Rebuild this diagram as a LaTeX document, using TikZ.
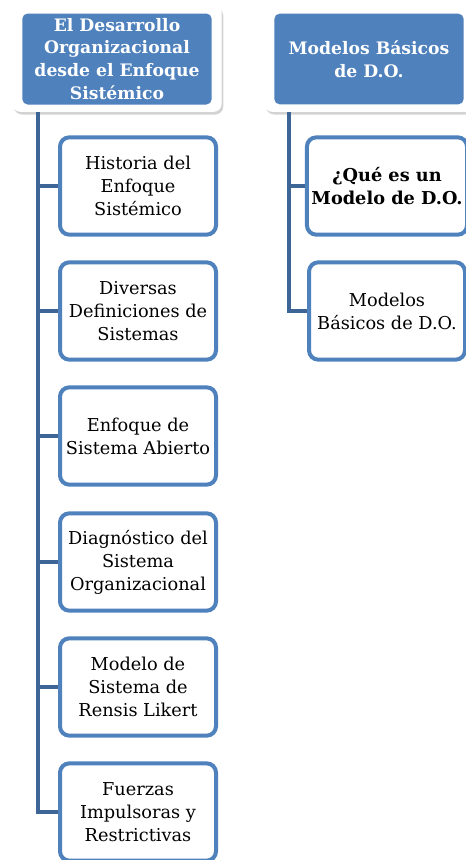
\documentclass[tikz,border=0pt]{standalone}
\usepackage{fontspec}
\setmainfont{DejaVu Serif}
\usetikzlibrary{shadows}
\definecolor{doblue}{HTML}{4F81BD}
\definecolor{dotrunk}{HTML}{3D6596}
\tikzset{
  hdrframe/.style={draw=none, fill=white, rounded corners=6pt, minimum width=157pt, minimum height=80pt,
    drop shadow={opacity=.35, shadow xshift=1.2pt, shadow yshift=-2pt}},
  hdrblock/.style={draw=none, fill=doblue, rounded corners=4pt, minimum width=142pt, minimum height=68pt,
    text=white, font=\bfseries\fontsize{12.9}{17.2}\selectfont, align=center},
  itemblock/.style={draw=doblue, line width=3pt, fill=white, rounded corners=7pt, minimum width=117pt,
    minimum height=73pt, font=\fontsize{13.3}{17.2}\selectfont, align=center},
  trunk/.style={draw=dotrunk, line width=3.5pt},
  branch/.style={draw=dotrunk, line width=3.5pt}
}

\begin{document}
\begin{tikzpicture}[x=0.75pt,y=-0.75pt]
    \useasboundingbox (0,0) rectangle (466,860);

    % encabezados
    \node[hdrframe] (f1) at (117,58.5) {};
    \node[hdrblock] (h1) at (117,59) {El Desarrollo\\Organizacional\\desde el Enfoque\\Sistémico};
    \node[hdrframe] (f2) at (369,58.5) {};
    \node[hdrblock] (h2) at (369,59) {Modelos Básicos\\de D.O.};

    % columna izquierda
    \node[itemblock] (c1) at (138,186) {Historia del\\Enfoque\\Sistémico};
    \node[itemblock] (c2) at (138,311) {Diversas\\Definiciones de\\Sistemas};
    \node[itemblock] (c3) at (138,436) {Enfoque de\\Sistema Abierto};
    \node[itemblock] (c4) at (138,562) {Diagnóstico del\\Sistema\\Organizacional};
    \node[itemblock] (c5) at (138,687) {Modelo de\\Sistema de\\Rensis Likert};
    \node[itemblock] (c6) at (138,812) {Fuerzas\\Impulsoras y\\Restrictivas};

    % columna derecha
    \node[itemblock, font=\bfseries\fontsize{13.3}{17.2}\selectfont] (d1) at (387,186) {¿Qué es un\\Modelo de D.O.};
    \node[itemblock] (d2) at (387,311) {Modelos\\Básicos de D.O.};

    \coordinate (t1) at (38,112);
    \coordinate (t2) at (289,112);
    \draw[trunk] (t1) |- (c6.west);
    \foreach \c in {c1,c2,c3,c4,c5}
      \draw[branch] (\c.west -| t1) -- (\c.west);
    \draw[trunk] (t2) |- (d2.west);
    \draw[branch] (d1.west -| t2) -- (d1.west);
\end{tikzpicture}
\end{document}
